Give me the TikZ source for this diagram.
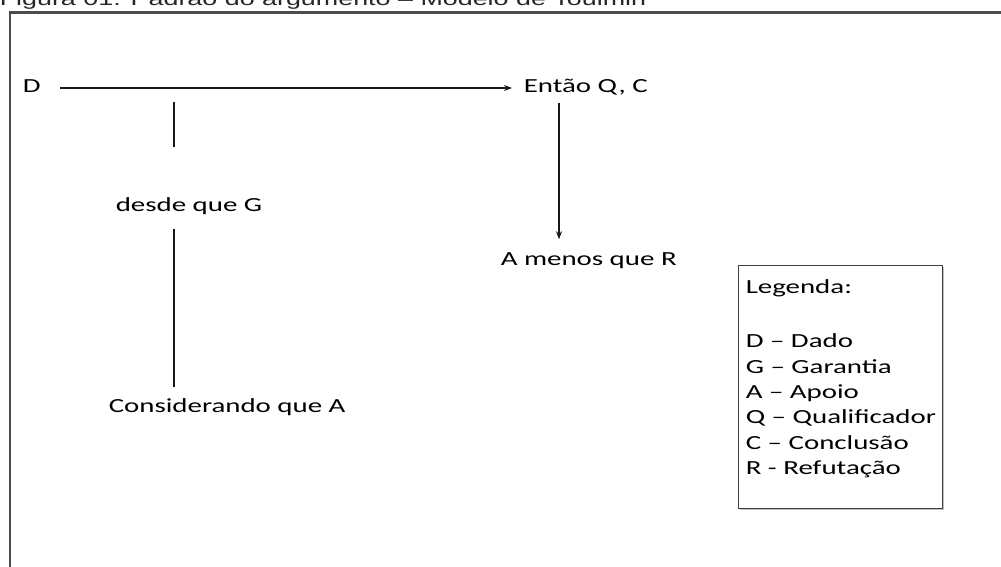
\documentclass[tikz,border=0pt]{standalone}
\usepackage{fontspec}
\setmainfont{Carlito}[FakeStretch=1.445]
\newfontfamily\titlefont{Liberation Sans}[FakeStretch=1.445]
\usepackage{tikz}
\usetikzlibrary{arrows.meta,positioning,shadows}
\tikzset{lbl/.style={inner sep=0pt,anchor=base west,text height=14pt,text depth=4pt,font=\fontsize{20}{25.5}\selectfont,text=black}}
\tikzset{legbox/.style={draw=black!75,line width=1.3pt,fill=white,drop shadow={shadow xshift=1.5pt,shadow yshift=-1.5pt,opacity=.5}}}

\begin{document}
\begin{tikzpicture}[x=1pt, y=-1pt, >={Stealth[length=8pt,width=6pt]}, line width=1.5pt, draw=black!90]
\useasboundingbox (0,0) rectangle (1001,567);
    \node[inner sep=0pt,anchor=base west,font=\titlefont\fontsize{18.6}{22}\selectfont,text=black!85] (title) at (-1,6) {Figura 01: Padrão do argumento – Modelo de Toulmin};
    \draw[line width=2.5pt,draw=black!70] (10,580) -- (10,12.5) -- (1010,12.5);

    \node[lbl] (D) at (22,93) {D};
    \node[lbl] (entao) at (523,93) {Então Q, C};
    \node[lbl] (desde) at (115,211) {desde que G};
    \node[lbl] (cons) at (108,412) {Considerando que A};
    \node[lbl] (menos) at (500,265) {A menos que R};
    \coordinate (gjoin) at (174,88);

    \draw[->, shorten <=19pt, shorten >=11pt] (D.east) -- (D.east -| entao.west);
    \draw[shorten <=14pt, shorten >=49pt] (gjoin) -- (gjoin |- desde.north);
    \draw[shorten <=13pt, shorten >=10pt] (gjoin |- desde.south) -- (gjoin |- cons.north);
    \draw[->, shorten <=5pt, shorten >=11pt] ([xshift=36pt]entao.south west) -- ([xshift=36pt]entao.south west |- menos.north);

    \node[legbox, minimum width=204pt, minimum height=243pt, anchor=north west] (legend) at (738,265) {};
    \node[inner sep=0pt, anchor=north west, align=left, font=\fontsize{20}{25.3}\selectfont, text=black] (legtext) at (745,279) {Legenda:\\[29pt]D – Dado\\G – Garantia\\A – Apoio\\Q – Qualificador\\C – Conclusão\\R - Refutação};
\end{tikzpicture}
\end{document}
